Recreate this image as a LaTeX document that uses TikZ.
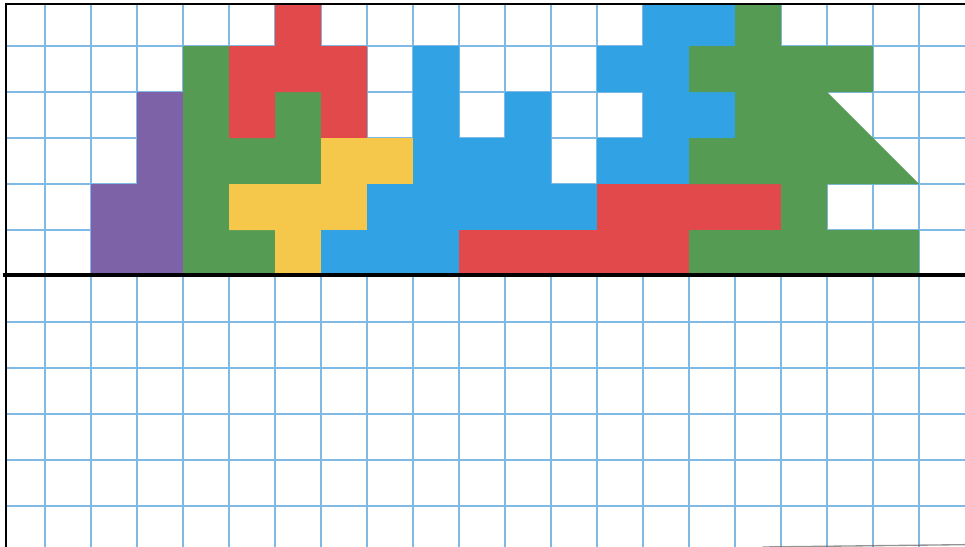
\documentclass[tikz,border=0pt]{standalone}
\begin{document}
\begin{tikzpicture}[x=34.5pt,y=-34.5pt]
\definecolor{gridblue}{RGB}{128,186,228}
\definecolor{pred}{RGB}{226,73,75}
\definecolor{pgreen}{RGB}{86,155,84}
\definecolor{pblue}{RGB}{49,162,227}
\definecolor{pyellow}{RGB}{245,200,76}
\definecolor{ppurple}{RGB}{125,98,168}
\tikzset{
  gridline/.style={draw=gridblue,line width=1.3pt},
  piece/.style={draw=none},
  frame/.style={draw=black,line width=2pt}
}
\useasboundingbox (0.0217,0) rectangle (21.0,11.891);
\fill[white] (0.0217,0) rectangle (21.0,11.891);
% grid
\foreach \c in {1,...,20} \draw[gridline] (\c,0) -- (\c,11.891);
\foreach \r in {1,...,11} \draw[gridline] (0.152,\r) -- (21.0,\r);
% pieces
\fill[ppurple] (3,2) -- (4,2) -- (4,6) -- (2,6) -- (2,4) -- (3,4) -- cycle;
\fill[pgreen] (4,1) -- (5,1) -- (5,3) -- (6,3) -- (6,2) -- (7,2) -- (7,4) -- (5,4) -- (5,5) -- (6,5) -- (6,6) -- (4,6) -- cycle;
\fill[pred] (6,0) -- (7,0) -- (7,1) -- (8,1) -- (8,3) -- (7,3) -- (7,2) -- (6,2) -- (6,3) -- (5,3) -- (5,1) -- (6,1) -- cycle;
\fill[pyellow] (7,3) -- (9,3) -- (9,4) -- (8,4) -- (8,5) -- (7,5) -- (7,6) -- (6,6) -- (6,5) -- (5,5) -- (5,4) -- (7,4) -- cycle;
\fill[pblue] (9,1) -- (10,1) -- (10,3) -- (11,3) -- (11,2) -- (12,2) -- (12,4) -- (13,4) -- (13,5) -- (10,5) -- (10,6) -- (7,6) -- (7,5) -- (8,5) -- (8,4) -- (9,4) -- cycle;
\fill[pblue] (14,0) -- (16,0) -- (16,1) -- (15,1) -- (15,2) -- (16,2) -- (16,3) -- (15,3) -- (15,4) -- (13,4) -- (13,3) -- (14,3) -- (14,2) -- (13,2) -- (13,1) -- (14,1) -- cycle;
\fill[pred] (13,4) -- (17,4) -- (17,5) -- (15,5) -- (15,6) -- (10,6) -- (10,5) -- (13,5) -- cycle;
\fill[pgreen] (16,0) -- (17,0) -- (17,1) -- (19,1) -- (19,2) -- (18,2) -- (20,4) -- (18,4) -- (18,5) -- (20,5) -- (20,6) -- (15,6) -- (15,5) -- (17,5) -- (17,4) -- (15,4) -- (15,3) -- (16,3) -- (16,2) -- (15,2) -- (15,1) -- (16,1) -- cycle;
% white margin above the frame
\fill[white] (0.0217,0) rectangle (21.0,0.065);
% frame lines
\draw[frame] (0.152,0.087) -- (21.0,0.087);
\draw[frame] (0.152,0.065) -- (0.152,11.891);
\draw[draw=black,line width=2.4pt] (0.085,5.98) -- (21.0,5.98);
\draw[draw=black!70,line width=1pt,opacity=0.6] (16.6,11.891) -- (21.0,11.84);
\end{tikzpicture}
\end{document}
